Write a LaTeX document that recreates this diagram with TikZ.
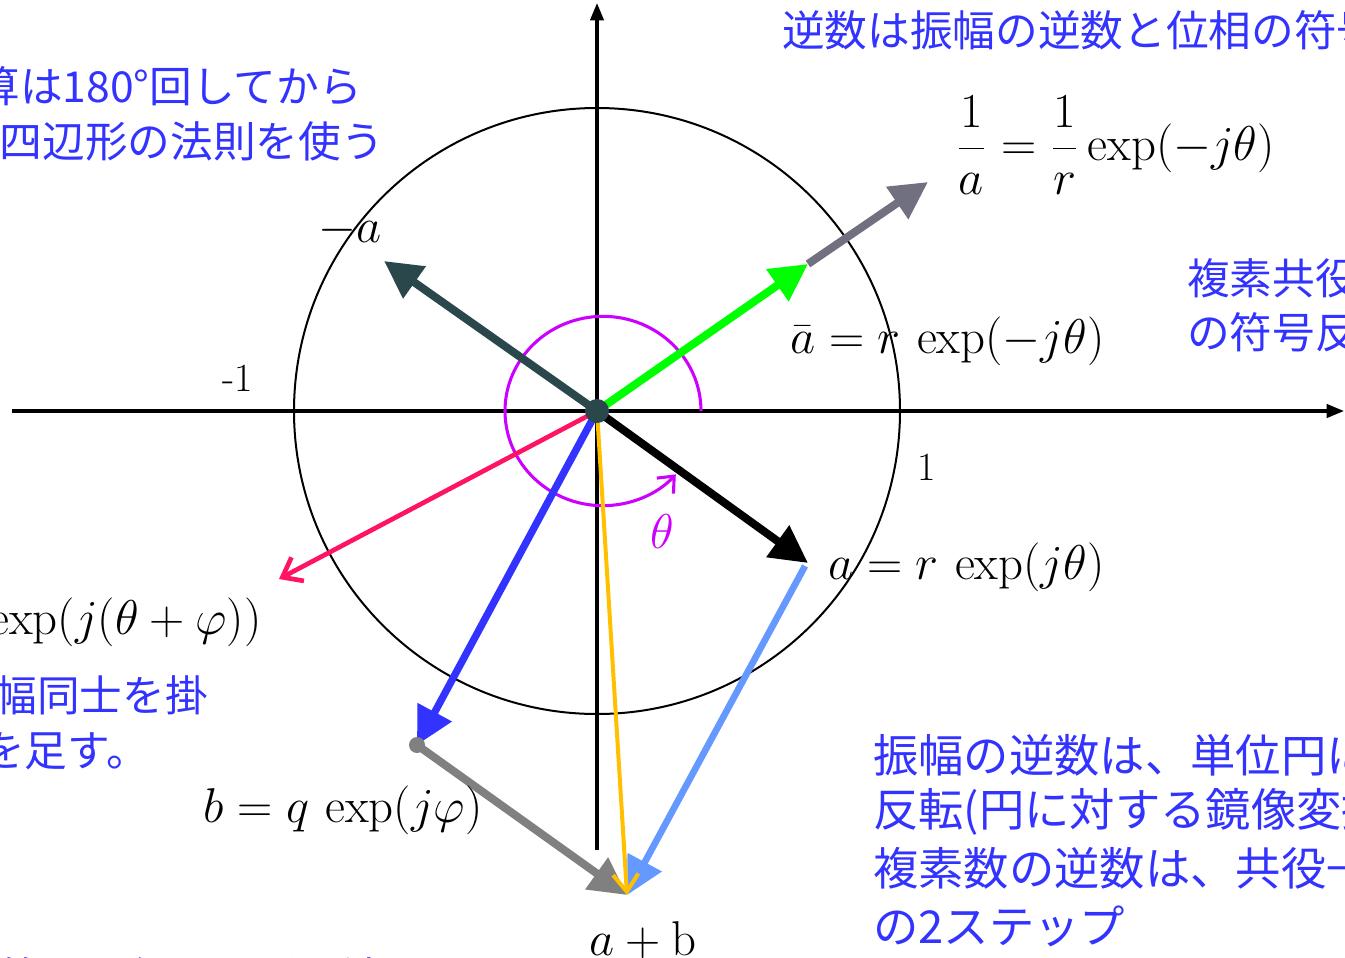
\documentclass[tikz,border=0pt]{standalone}
\usepackage{fontspec}
\newfontfamily\jp{Noto Sans CJK JP}
\usetikzlibrary{arrows.meta}
\definecolor{jblue}{RGB}{51,51,255}
\definecolor{slate}{RGB}{42,72,76}
\definecolor{grayvec}{RGB}{112,112,128}
\definecolor{greenvec}{RGB}{0,255,0}
\definecolor{pinkvec}{RGB}{255,20,100}
\definecolor{bluevec}{RGB}{51,51,255}
\definecolor{graybot}{RGB}{128,128,128}
\definecolor{lightvec}{RGB}{102,153,255}
\definecolor{yellowvec}{RGB}{255,192,0}
\definecolor{thetacol}{RGB}{204,0,255}
\begin{document}
\begin{tikzpicture}[x=0.75pt,y=-0.75pt,
  jtext/.style={font=\jp\fontsize{32pt}{38pt}\selectfont, text=jblue, inner sep=0pt},
  jbig/.style={font=\jp\fontsize{34pt}{40pt}\selectfont, text=jblue, inner sep=0pt},
  mlabel/.style={font=\fontsize{17.28pt}{20pt}\selectfont, inner sep=0pt, scale=2.12},
  axis/.style={line width=2.3pt, -{Triangle[length=13pt,width=10pt]}},
  bigvec/.style={line width=6pt, -{Triangle[length=28pt,width=28pt]}},
  thinvec/.style={line width=3.5pt, -{Straight Barb[length=13pt,width=20pt,line width=3.5pt]}}
]
\useasboundingbox (0,0) rectangle (1345,957);
\clip (0,0) rectangle (1345,957);

% points
\coordinate (O) at (597,411);
\coordinate (ax-l) at (12,411);
\coordinate (ax-r) at (1344,411);
\coordinate (ax-b) at (597,850);
\coordinate (ax-t) at (597,3);
\coordinate (A) at (808,563);
\coordinate (Abar) at (808,264);
\coordinate (Ainv) at (928,182);
\coordinate (Aneg) at (384,261);
\coordinate (AB) at (279,579);
\coordinate (B) at (417,745);
\coordinate (S) at (627,895);
\coordinate (Astart) at (805,566);

% axes and unit circle
\draw[axis] (ax-l) -- (ax-r);
\draw[axis] (ax-b) -- (ax-t);
\draw[line width=1.5pt] (O) circle[radius=227.25pt];

% theta arc
\draw[thetacol, line width=2.3pt, -{Straight Barb[length=10pt,width=17pt,line width=2.3pt]}]
  (701,411) arc[start angle=0, end angle=318, x radius=73.5pt, y radius=71pt];

% vectors
\draw[bigvec, grayvec] (Abar) -- (Ainv);
\draw[bigvec, greenvec] (O) -- (Abar);
\draw[bigvec, black] (O) -- (A);
\draw[bigvec, slate] (O) -- (Aneg);
\draw[thinvec, pinkvec] (O) -- (AB);
\draw[bigvec, bluevec, line width=5.5pt] (O) -- (B);
\fill[graybot] (B) circle[radius=6pt];
\draw[bigvec, graybot] (B) -- (S);
\draw[bigvec, lightvec, line width=5pt] (Astart) -- (S);
\draw[yellowvec, line width=3pt, -{Straight Barb[length=13pt,width=19pt,line width=3pt]}] (O) -- (S);
\fill[slate] (O) circle[radius=9pt];

% math labels
\node[mlabel] (lneg) at (350,230) {$-a$};
\node[font=\fontsize{30pt}{36pt}\selectfont, inner sep=0pt] (lm1) at (238,378) {-1};
\node[font=\fontsize{30pt}{36pt}\selectfont, inner sep=0pt] (lp1) at (927,467) {1};
\node[mlabel, text=thetacol] (lth) at (662,532) {$\theta$};
\node[mlabel, anchor=west] (la) at (828,567) {$a = r\,\exp(j\theta)$};
\node[mlabel, anchor=west] (lbar) at (790,341) {$\bar{a} = r\,\exp(-j\theta)$};
\node[mlabel, anchor=west] (linv) at (955,145) {$\displaystyle\frac{1}{a} = \frac{1}{r}\exp(-j\theta)$};
\node[mlabel, anchor=west] (lb) at (203,810) {$b = q\,\exp(j\varphi)$};
\node[mlabel, anchor=east] (lab) at (262,622) {$ab = rq\,\exp\bigl(j(\theta+\varphi)\bigr)$};
\node[mlabel] (lsum) at (643,940) {$a+\mathrm{b}$};

% Japanese texts
\node[jtext, anchor=west] (t-top) at (782,30) {逆数は振幅の逆数と位相の符号反転};
\node[jtext, anchor=east] (t-sub1) at (362,86) {減算は180°回してから};
\node[jtext, anchor=east] (t-sub2) at (384,141) {平行四辺形の法則を使う};
\node[jtext, anchor=west] (t-conj1) at (1187,278) {複素共役は};
\node[jtext, anchor=west] (t-conj2) at (1187,332) {の符号反転};
\node[jtext, anchor=east] (t-mul1) at (208,695) {乗算は振幅同士を掛};
\node[jtext, anchor=east] (t-mul2) at (149,750) {け、位相を足す。};
\node[jbig, anchor=west] (t-r1) at (873,755) {振幅の逆数は、単位円に関する};
\node[jbig, anchor=west] (t-r2) at (873,812) {反転(円に対する鏡像変換)};
\node[jbig, anchor=west] (t-r3) at (873,868) {複素数の逆数は、共役→反転};
\node[jbig, anchor=west] (t-r4) at (873,926) {の2ステップ};
\node[jtext, anchor=west] (t-add) at (-42,977) {加算は平行四辺形の法則};
\end{tikzpicture}
\end{document}
